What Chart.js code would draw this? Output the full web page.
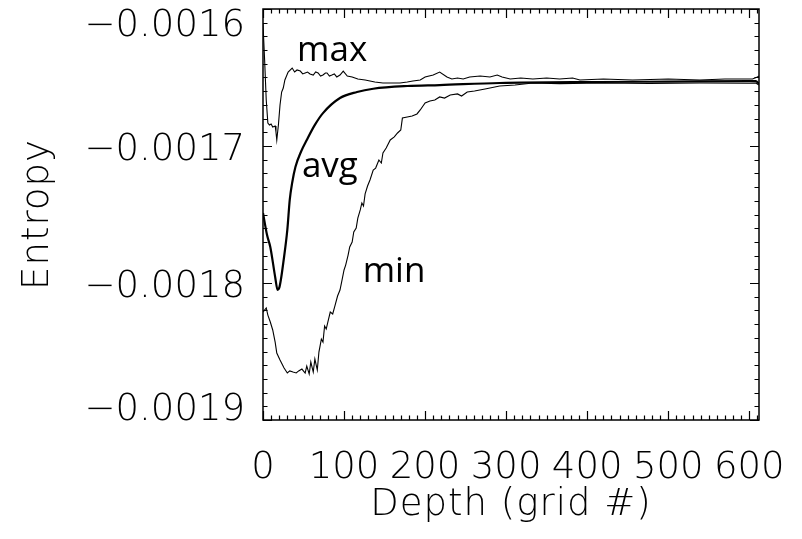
<!DOCTYPE html>
<html>
<head>
<meta charset="utf-8">
<script src="https://cdn.jsdelivr.net/npm/chart.js@4/dist/chart.umd.min.js"></script>
<style>
body{margin:0;background:#fff;}
#c{display:block;}
</style>
</head>
<body>
<canvas id="c" width="802" height="539"></canvas>
<script>
// 轴范围和刻度
var xMin=0, xMax=612, xMajor=100, xMinor=10;
var yMin=-0.0019, yMax=-0.0016, yMajor=0.0001, yMinor=0.00001;
var xTitle="Depth (grid #)";
var yTitle="Entropy";

// max 曲线
var maxDepth=[0,2,4,6,8,10,12,15,16,17,19,21,23,25,27,31,36,39,42,46,49,52,55,58,62,65,68,71,74,77,79,82,85,88,91,95,99,104,110,117,126,138,148,157,169,178,185,194,200,210,218,227,233,240,247,255,268,280,289,295,305,318,333,350,366,382,391,420,456,500,539,570,604,610,612];
var maxEntropy=[-0.0016109,-0.0016372,-0.0016664,-0.0016832,-0.0016847,-0.0016839,-0.0016861,-0.0016854,-0.0016898,-0.0016956,-0.0016847,-0.0016701,-0.0016606,-0.0016577,-0.0016518,-0.0016460,-0.0016431,-0.0016460,-0.0016445,-0.0016453,-0.0016474,-0.0016467,-0.0016460,-0.0016474,-0.0016482,-0.0016460,-0.0016467,-0.0016489,-0.0016482,-0.0016467,-0.0016467,-0.0016489,-0.0016482,-0.0016474,-0.0016496,-0.0016482,-0.0016453,-0.0016489,-0.0016496,-0.0016511,-0.0016518,-0.0016533,-0.0016540,-0.0016540,-0.0016540,-0.0016533,-0.0016526,-0.0016518,-0.0016496,-0.0016482,-0.0016460,-0.0016496,-0.0016511,-0.0016504,-0.0016511,-0.0016496,-0.0016489,-0.0016496,-0.0016482,-0.0016496,-0.0016511,-0.0016504,-0.0016511,-0.0016504,-0.0016511,-0.0016504,-0.0016518,-0.0016511,-0.0016518,-0.0016511,-0.0016518,-0.0016511,-0.0016511,-0.0016496,-0.0016489];

// avg 曲线
var avgDepth=[0,5,9,15,18,20,22,25,30,33,36,40,47,54,64,74,95,116,136,178,218,292,415,500,600,608,612];
var avgEntropy=[-0.0017489,-0.0017650,-0.0017737,-0.0017956,-0.0018051,-0.0018036,-0.0017978,-0.0017854,-0.0017613,-0.0017393,-0.0017268,-0.0017153,-0.0017040,-0.0016956,-0.0016846,-0.0016760,-0.0016650,-0.0016606,-0.0016582,-0.0016562,-0.0016555,-0.0016540,-0.0016533,-0.0016530,-0.0016526,-0.0016526,-0.0016547];

// min 曲线
var minDepth=[0,4,6,9,12,15,17,21,26,30,33,37,41,44,48,52,54,57,59,62,64,67,69,72,74,76,78,80,83,86,89,92,95,97,100,102,105,107,110,112,115,117,120,122,124,126,129,132,136,139,143,146,148,152,157,162,166,170,172,178,184,190,194,200,206,212,218,224,231,240,245,252,261,274,292,311,333,366,416,477,539,600,608,612];
var minEntropy=[-0.0018212,-0.0018182,-0.0018234,-0.0018285,-0.0018343,-0.0018431,-0.0018511,-0.0018562,-0.0018620,-0.0018657,-0.0018642,-0.0018650,-0.0018657,-0.0018642,-0.0018628,-0.0018657,-0.0018606,-0.0018664,-0.0018577,-0.0018650,-0.0018555,-0.0018635,-0.0018504,-0.0018409,-0.0018431,-0.0018314,-0.0018336,-0.0018285,-0.0018212,-0.0018226,-0.0018161,-0.0018095,-0.0018051,-0.0017993,-0.0017905,-0.0017869,-0.0017796,-0.0017737,-0.0017701,-0.0017628,-0.0017599,-0.0017526,-0.0017467,-0.0017416,-0.0017438,-0.0017350,-0.0017292,-0.0017248,-0.0017175,-0.0017161,-0.0017102,-0.0017124,-0.0017051,-0.0017015,-0.0016956,-0.0016934,-0.0016905,-0.0016883,-0.0016796,-0.0016788,-0.0016781,-0.0016766,-0.0016737,-0.0016686,-0.0016672,-0.0016664,-0.0016642,-0.0016650,-0.0016628,-0.0016620,-0.0016635,-0.0016606,-0.0016599,-0.0016584,-0.0016562,-0.0016555,-0.0016540,-0.0016545,-0.0016540,-0.0016544,-0.0016540,-0.0016542,-0.0016540,-0.0016555];

// 曲线旁边的文字
var noteText=["max","avg","min"];
var noteDepth=[42,48,123];
var noteEntropy=[-0.001638,-0.0017226,-0.0017993];

function toPoints(xs,ys){
    var list=[];
    for(var i=0;i<xs.length;i++){
        list.push({x:xs[i],y:ys[i]});
    }
    return list;
}

function fmtY(v){
    return v.toFixed(4).replace("-","\u2212");
}

var tickFont='200 37px "DejaVu Sans"';

// IDL风格的坐标框: 向内的刻度, 文字自己画
var idlAxes={
    id:"idlAxes",
    afterDraw:function(chart){
        var ctx=chart.ctx;
        var a=chart.chartArea;
        var xs=chart.scales.x, ys=chart.scales.y;
        ctx.save();
        ctx.strokeStyle="#000";
        ctx.lineWidth=1.5;
        ctx.strokeRect(a.left,a.top,a.right-a.left,a.bottom-a.top);

        ctx.lineWidth=1.2;
        ctx.beginPath();
        var n=Math.round((xMax-xMin)/xMinor);
        for(var i=0;i<=n;i++){
            var v=xMin+i*xMinor;
            var px=Math.round(xs.getPixelForValue(v))+0.5;
            var len=(v%xMajor===0)?9:4.5;
            ctx.moveTo(px,a.bottom);ctx.lineTo(px,a.bottom-len);
            ctx.moveTo(px,a.top);ctx.lineTo(px,a.top+len);
        }
        var m=Math.round((yMax-yMin)/yMinor);
        for(var j=0;j<=m;j++){
            var py=Math.round(ys.getPixelForValue(yMin+j*yMinor))+0.5;
            var ylen=(j%10===0)?9:4.5;
            ctx.moveTo(a.left,py);ctx.lineTo(a.left+ylen,py);
            ctx.moveTo(a.right,py);ctx.lineTo(a.right-ylen,py);
        }
        ctx.stroke();

        ctx.fillStyle="#000";
        ctx.font=tickFont;
        // x 标签
        ctx.textAlign="center";
        ctx.textBaseline="alphabetic";
        for(var k=xMin;k<=xMax;k+=xMajor){
            ctx.fillText(String(k),xs.getPixelForValue(k),a.bottom+58);
        }
        // y 标签, 两端往里收
        ctx.textAlign="right";
        var half=13.5;
        var nm=Math.round((yMax-yMin)/yMajor);
        for(var t=0;t<=nm;t++){
            var val=yMin+t*yMajor;
            var cy=ys.getPixelForValue(val);
            cy=Math.max(a.top+half,Math.min(a.bottom-half,cy));
            ctx.fillText(fmtY(val),a.left-18,cy+half);
        }
        // 轴标题
        ctx.textAlign="center";
        ctx.letterSpacing="1px";
        ctx.fillText(xTitle,(a.left+a.right)/2,a.bottom+95);
        ctx.save();
        ctx.translate(48,(a.top+a.bottom)/2);
        ctx.rotate(-Math.PI/2);
        ctx.fillText(yTitle,0,0);
        ctx.restore();
        ctx.letterSpacing="0px";

        // 曲线注释
        ctx.font='35px "Open Sans"';
        ctx.textAlign="left";
        for(var q=0;q<noteText.length;q++){
            ctx.fillText(noteText[q],xs.getPixelForValue(noteDepth[q]),ys.getPixelForValue(noteEntropy[q]));
        }
        ctx.restore();
    }
};

var entropyChart=new Chart(document.getElementById("c"),{
    type:"line",
    data:{
        datasets:[
            {
                label:"max",
                data:toPoints(maxDepth,maxEntropy),
                borderColor:"#000",
                borderWidth:1.1,
                pointRadius:0,
                tension:0
            },
            {
                label:"avg",
                data:toPoints(avgDepth,avgEntropy),
                borderColor:"#000",
                borderWidth:2.2,
                pointRadius:0,
                cubicInterpolationMode:"monotone"
            },
            {
                label:"min",
                data:toPoints(minDepth,minEntropy),
                borderColor:"#000",
                borderWidth:1.1,
                pointRadius:0,
                tension:0
            }
        ]
    },
    options:{
        responsive:false,
        animation:false,
        layout:{padding:{left:263,right:43,top:9,bottom:119}},
        plugins:{legend:{display:false},tooltip:{enabled:false}},
        scales:{
            x:{type:"linear",min:xMin,max:xMax,display:false},
            y:{type:"linear",min:yMin,max:yMax,display:false}
        }
    },
    plugins:[idlAxes]
});
</script>
</body>
</html>
